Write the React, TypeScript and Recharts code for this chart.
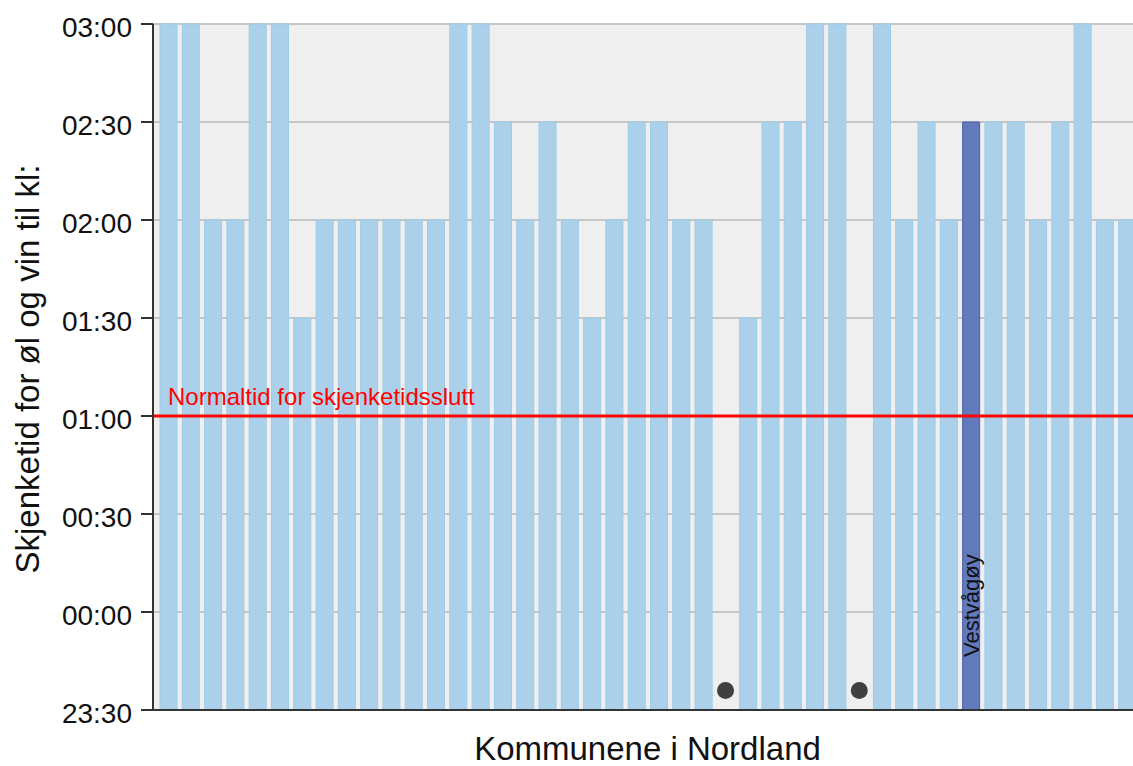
import { ComposedChart, Bar, Scatter, XAxis, YAxis, CartesianGrid, ReferenceLine, Cell, LabelList, Label } from 'recharts';

// Nordland municipalities, ordered by kommune number
const kommuner = [
  'Bodø', 'Narvik', 'Bindal', 'Sømna', 'Brønnøy', 'Vega', 'Vevelstad', 'Herøy', 'Alstahaug', 'Leirfjord',
  'Vefsn', 'Grane', 'Hattfjelldal', 'Dønna', 'Nesna', 'Hemnes', 'Rana', 'Lurøy', 'Træna', 'Rødøy',
  'Meløy', 'Gildeskål', 'Beiarn', 'Saltdal', 'Fauske', 'Sørfold', 'Steigen', 'Hamarøy', 'Tysfjord', 'Lødingen',
  'Tjeldsund', 'Evenes', 'Ballangen', 'Røst', 'Værøy', 'Flakstad', 'Vestvågøy', 'Vågan', 'Hadsel', 'Bø',
  'Øksnes', 'Sortland', 'Andøy', 'Moskenes',
];

// closing time for beer and wine (null = no data)
const closingTimes: (string | null)[] = [
  '03:00', '03:00', '02:00', '02:00', '03:00', '03:00', '01:30', '02:00', '02:00', '02:00',
  '02:00', '02:00', '02:00', '03:00', '03:00', '02:30', '02:00', '02:30', '02:00', '01:30',
  '02:00', '02:30', '02:30', '02:00', '02:00', null, '01:30', '02:30', '02:30', '03:00',
  '03:00', null, '03:00', '02:00', '02:30', '02:00', '02:30', '02:30', '02:30', '02:00',
  '02:30', '03:00', '02:00', '02:00',
];

const highlighted = 'Vestvågøy';
const normalTime = '01:00';
const missingMarker = 6; // minutes above 23:30, where the "no data" dot sits

const yTickLabels = ['23:30', '00:00', '00:30', '01:00', '01:30', '02:00', '02:30', '03:00'];

// minutes after 23:30
const toMinutes = (t: string) => {
  const [h, m] = t.split(':').map(Number);
  return (h >= 12 ? h - 24 : h) * 60 + m + 30;
};

const yTicks = yTickLabels.map(toMinutes);

const data = kommuner.map((name, i) => ({
  name,
  value: closingTimes[i] ? toMinutes(closingTimes[i] as string) : null,
  missing: closingTimes[i] ? null : missingMarker,
}));

const font = '"Liberation Sans", Arial, sans-serif';

export default function App() {
  return (
    <div style={{ position: 'absolute', left: 0, top: 0, width: 1133, height: 766, overflow: 'hidden', background: '#fff', fontFamily: font }}>
      <ComposedChart width={1142} height={766} data={data} margin={{ top: 24, right: 0, bottom: 0, left: 0 }}>
        <CartesianGrid vertical={false} fill="#efefef" stroke="#c6c6c6" strokeWidth={2} />
        <XAxis
          dataKey="name"
          tick={false}
          tickLine={false}
          height={56}
          padding={{ left: 4, right: 4 }}
          axisLine={{ stroke: '#333', strokeWidth: 2 }}
        >
          <Label
            content={(p: any) => {
              const vb = p.viewBox;
              return (
                <text x={vb.x + vb.width / 2} y={vb.y + 50} textAnchor="middle" fontSize={33} fill="#111">
                  Kommunene i Nordland
                </text>
              );
            }}
          />
        </XAxis>
        <YAxis
          width={153}
          domain={[0, 210]}
          ticks={yTicks}
          tickFormatter={(v: number) => yTickLabels[yTicks.indexOf(v)]}
          tick={{ fontSize: 28, fill: '#111', dy: 3 }}
          tickSize={12}
          tickMargin={9}
          tickLine={{ stroke: '#333', strokeWidth: 2 }}
          axisLine={{ stroke: '#333', strokeWidth: 2 }}
        >
          <Label
            content={(p: any) => {
              const vb = p.viewBox;
              const cx = vb.x + 39;
              const cy = vb.y + vb.height / 2 + 2;
              return (
                <text x={cx} y={cy} transform={`rotate(-90 ${cx} ${cy})`} textAnchor="middle" fontSize={33} fill="#111">
                  Skjenketid for øl og vin til kl:
                </text>
              );
            }}
          />
        </YAxis>
        <Bar dataKey="value" barSize={17} stroke="#9ccbe8" strokeWidth={1} isAnimationActive={false}>
          {data.map((d) => (
            <Cell
              key={d.name}
              fill={d.name === highlighted ? '#6279bb' : '#abd1ea'}
              stroke={d.name === highlighted ? '#4a5fa8' : '#9ccbe8'}
            />
          ))}
          <LabelList
            dataKey="name"
            content={(p: any) => {
              if (p.value !== highlighted) return null;
              const vb = p.viewBox ?? p;
              const tx = Number(vb.x) + Number(vb.width) / 2 + 8;
              const ty = Number(vb.y) + Number(vb.height) - 53;
              return (
                <text x={tx} y={ty} transform={`rotate(-90 ${tx} ${ty})`} fontSize={22} fill="#111">
                  {p.value}
                </text>
              );
            }}
          />
        </Bar>
        <Scatter
          dataKey="missing"
          isAnimationActive={false}
          shape={(p: any) =>
            p.payload.missing == null || !Number.isFinite(p.cy) ? <g /> : <circle cx={p.cx} cy={p.cy} r={8.5} fill="#404040" />
          }
        />
        <ReferenceLine
          y={toMinutes(normalTime)}
          stroke="#ff0000"
          strokeWidth={3}
          label={(p: any) => (
            <text x={p.viewBox.x + 15} y={p.viewBox.y - 11} fontSize={24} fill="#ff0000">
              Normaltid for skjenketidsslutt
            </text>
          )}
        />
      </ComposedChart>
    </div>
  );
}
